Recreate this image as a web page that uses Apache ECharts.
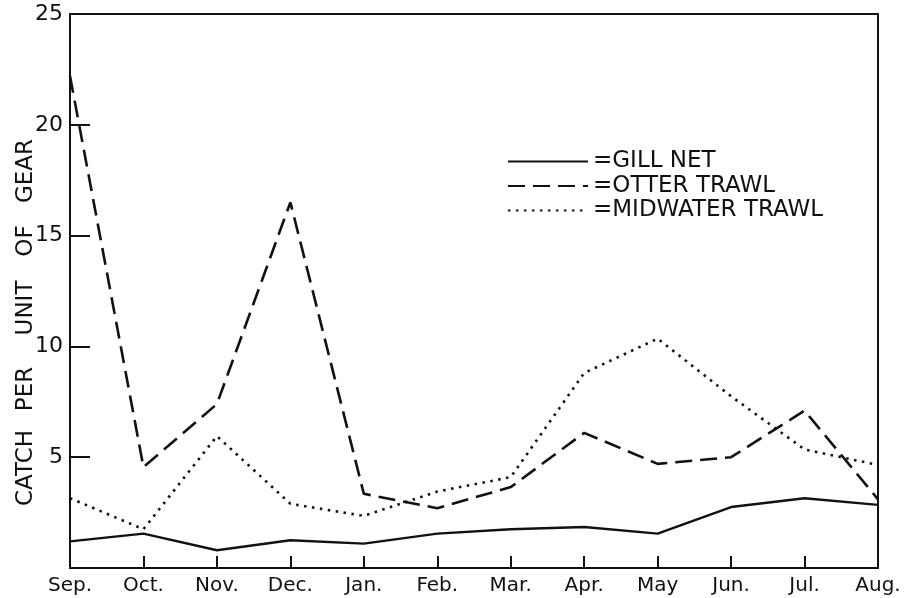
<!DOCTYPE html>
<html>
<head>
<meta charset="utf-8">
<script src="https://cdn.jsdelivr.net/npm/echarts@6/dist/echarts.min.js"></script>
<style>
  html, body { margin: 0; padding: 0; background: #fff; }
  #chart { width: 904px; height: 598px; }
</style>
</head>
<body>
<div id="chart"></div>
<script>
// Monthly catch per unit of gear, September through August
const months = ['Sep.', 'Oct.', 'Nov.', 'Dec.', 'Jan.', 'Feb.', 'Mar.', 'Apr.', 'May', 'Jun.', 'Jul.', 'Aug.'];
const gillNet = [1.2, 1.55, 0.8, 1.25, 1.1, 1.55, 1.75, 1.85, 1.55, 2.75, 3.15, 2.85];
const otterTrawl = [22.2, 4.55, 7.4, 16.5, 3.35, 2.7, 3.65, 6.1, 4.7, 5.0, 7.1, 3.1];
const midwaterTrawl = [3.15, 1.75, 5.95, 2.9, 2.35, 3.45, 4.1, 8.8, 10.35, 7.75, 5.35, 4.65];
const yTicks = [5, 10, 15, 20, 25];
const yTitleWords = ['CATCH', 'PER', 'UNIT', 'OF', 'GEAR'];

const ink = '#111';
const chart = echarts.init(document.getElementById('chart'));

// rotated y-axis title, laid out word by word along the axis
const titleCenters = [468, 389, 308, 241, 171];
const titleText = yTitleWords.map((w, i) => ({
  type: 'text',
  x: 26,
  y: titleCenters[i],
  rotation: Math.PI / 2,
  style: {
    text: w,
    fill: ink,
    font: '23px "DejaVu Sans"',
    textAlign: 'center',
    textVerticalAlign: 'middle'
  }
}));

chart.setOption({
  backgroundColor: '#fff',
  animation: false,
  grid: {
    left: 70, right: 26, top: 14, bottom: 30,
    show: true, borderColor: ink, borderWidth: 2, backgroundColor: 'transparent'
  },
  legend: {
    orient: 'vertical',
    left: 502,
    top: 145,
    itemWidth: 80,
    itemHeight: 14,
    itemGap: 1.5,
    itemStyle: { opacity: 0 },
    formatter: n => '=' + n,
    textStyle: { color: ink, fontSize: 23, lineHeight: 20, fontFamily: 'DejaVu Sans' },
    data: ['GILL NET', 'OTTER TRAWL', 'MIDWATER TRAWL']
  },
  xAxis: {
    type: 'category',
    data: months,
    boundaryGap: false,
    axisLine: { lineStyle: { color: ink, width: 2 } },
    axisTick: { inside: true, length: 12, lineStyle: { color: ink, width: 2 } },
    axisLabel: { color: ink, fontSize: 20, fontFamily: 'DejaVu Sans', margin: 8 },
    splitLine: { show: false }
  },
  yAxis: {
    type: 'value',
    min: 0, max: 25, interval: 5,
    axisLine: { show: true, lineStyle: { color: ink, width: 2 } },
    axisTick: { show: true, inside: true, length: 20, lineStyle: { color: ink, width: 2 } },
    axisLabel: {
      color: ink, fontSize: 22, fontFamily: 'DejaVu Sans', margin: 7,
      formatter: v => (yTicks.includes(v) ? String(v) : '')
    },
    splitLine: { show: false }
  },
  graphic: titleText,
  series: [
    {
      name: 'GILL NET', type: 'line', data: gillNet, symbol: 'none',
      lineStyle: { color: ink, width: 2.4 }, itemStyle: { color: ink }
    },
    {
      name: 'OTTER TRAWL', type: 'line', data: otterTrawl, symbol: 'none',
      lineStyle: { color: ink, width: 2.6, type: [17, 8] }, itemStyle: { color: ink }
    },
    {
      name: 'MIDWATER TRAWL', type: 'line', data: midwaterTrawl, symbol: 'none',
      lineStyle: { color: ink, width: 2.6, type: [2.5, 5.5] }, itemStyle: { color: ink }
    }
  ]
});
</script>
</body>
</html>
